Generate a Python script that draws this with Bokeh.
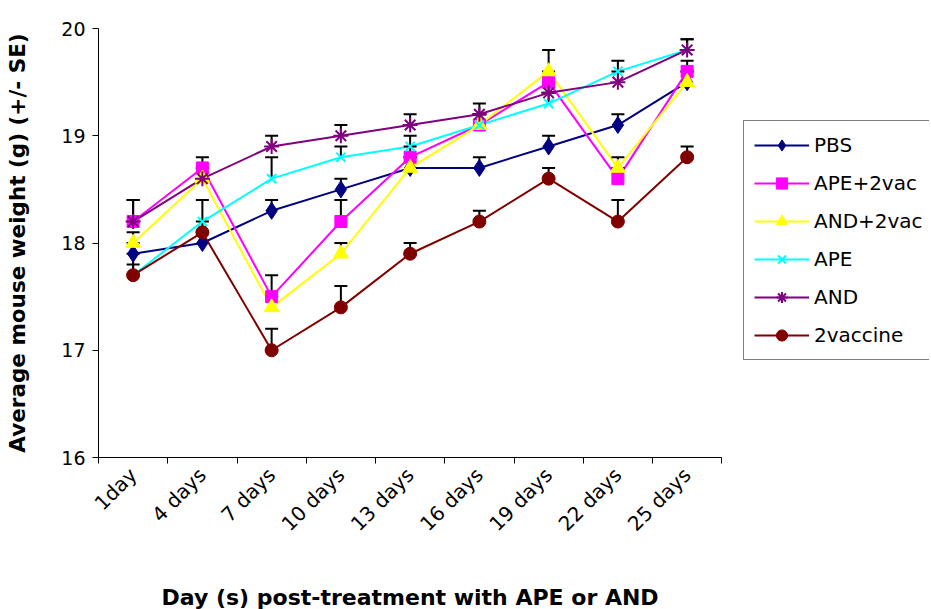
import math
from bokeh.plotting import figure
from bokeh.models import Range1d, FixedTicker, LinearAxis, Legend, LegendItem, Title
from bokeh.embed import file_html
from bokeh.resources import INLINE

# ---------------- data ----------------
days = ["1day", "4 days", "7 days", "10 days", "13 days", "16 days", "19 days", "22 days", "25 days"]

pbs      = [17.9, 18.0, 18.3, 18.5, 18.7, 18.7, 18.9, 19.1, 19.5]
ape_2vac = [18.2, 18.7, 17.5, 18.2, 18.8, 19.1, 19.5, 18.6, 19.6]
and_2vac = [18.0, 18.6, 17.4, 17.9, 18.7, 19.1, 19.6, 18.7, 19.5]
ape      = [17.7, 18.2, 18.6, 18.8, 18.9, 19.1, 19.3, 19.6, 19.8]
and_     = [18.2, 18.6, 18.9, 19.0, 19.1, 19.2, 19.4, 19.5, 19.8]
vac2     = [17.7, 18.1, 17.0, 17.4, 17.9, 18.2, 18.6, 18.2, 18.8]

pbs_se      = [0.1, 0.1, 0.1, 0.1, 0.1, 0.1, 0.1, 0.1, 0.1]
ape_2vac_se = [0.2, 0.1, 0.2, 0.2, 0.1, 0.1, 0.1, 0.1, 0.1]
and_2vac_se = [0.1, 0.1, 0.1, 0.1, 0.1, 0.1, 0.2, 0.1, 0.1]
ape_se      = [0.1, 0.2, 0.2, 0.1, 0.1, 0.1, 0.1, 0.1, 0.1]
and_se      = [0.2, 0.1, 0.1, 0.1, 0.1, 0.1, 0.1, 0.1, 0.1]
vac2_se     = [0.2, 0.1, 0.2, 0.2, 0.1, 0.1, 0.1, 0.2, 0.1]

y_ticks = [16, 17, 18, 19, 20]

series = [
    ("PBS",      pbs,      pbs_se,      "#000080", "diamond",  17),
    ("APE+2vac", ape_2vac, ape_2vac_se, "#FF00FF", "square",   12),
    ("AND+2vac", and_2vac, and_2vac_se, "#FFFF00", "triangle", 15),
    ("APE",      ape,      ape_se,      "#00FFFF", "x",        13),
    ("AND",      and_,     and_se,      "#800080", "asterisk", 15),
    ("2vaccine", vac2,     vac2_se,     "#800000", "circle",   13),
]

FONT = "DejaVu Sans"
n = len(days)

# frame spans to the right edge; the axes are bounded to the category span
p = figure(width=931, height=609, output_backend="svg", toolbar_location=None,
           x_range=Range1d(0, 12), y_range=Range1d(16, 20),
           min_border_left=98, min_border_right=2, min_border_top=28, min_border_bottom=151,
           x_axis_location=None, y_axis_location="left")
p.outline_line_color = None
p.xgrid.visible = False
p.ygrid.visible = False
p.background_fill_color = "white"
p.border_fill_color = "white"

xs = [i + 0.5 for i in range(n)]

# y axis
ya = p.yaxis[0]
ya.ticker = FixedTicker(ticks=y_ticks)
ya.minor_tick_line_color = None
ya.major_tick_in = 0
ya.major_tick_out = 6
ya.axis_line_color = "black"
ya.major_tick_line_color = "black"
ya.major_label_text_font = FONT
ya.major_label_text_font_size = "19px"
ya.major_label_text_color = "black"
ya.major_label_standoff = 7
ya.axis_label = "Average mouse weight (g) (+/- SE)"
ya.axis_label_text_font = FONT
ya.axis_label_text_font_size = "21.5px"
ya.axis_label_text_font_style = "bold"
ya.axis_label_text_color = "black"
ya.axis_label_standoff = 28

# x axis: boundary ticks only
tick_axis = LinearAxis(ticker=FixedTicker(ticks=list(range(n + 1))), bounds=(0, n),
                       major_label_overrides={i: "" for i in range(n + 1)},
                       major_label_text_font_size="1px", major_label_standoff=0,
                       major_tick_in=0, major_tick_out=6,
                       minor_tick_line_color=None, axis_line_color="black",
                       major_tick_line_color="black")
p.add_layout(tick_axis, "below")

# x axis: category labels at centers
label_axis = LinearAxis(ticker=FixedTicker(ticks=xs), bounds=(0, n),
                        major_label_overrides={x: d for x, d in zip(xs, days)},
                        major_tick_in=0, major_tick_out=0, minor_tick_line_color=None,
                        axis_line_color=None, major_tick_line_color=None,
                        major_label_orientation=math.pi / 4,
                        major_label_standoff=8,
                        major_label_text_font=FONT, major_label_text_font_size="20px",
                        major_label_text_color="black")
p.add_layout(label_axis, "below")

# empty spacer between the tick labels and the axis title
spacer = Title(text=" ", text_font_size="1px", standoff=32)
p.add_layout(spacer, "below")

# x axis title, centred under the category span
x_title = Title(text="Day (s) post-treatment with APE or AND", align="left", offset=63,
                vertical_align="bottom",
                text_font=FONT, text_font_size="22px", text_font_style="bold",
                text_color="black", standoff=0)
p.add_layout(x_title, "below")

line_renderers = []
for name, vals, se, col, mk, sz in series:
    r = p.line(xs, vals, line_color=col, line_width=2)
    line_renderers.append(r)

# error bars (upper only)
for name, vals, se, col, mk, sz in series:
    tops = [v + s for v, s in zip(vals, se)]
    p.segment(x0=xs, y0=vals, x1=xs, y1=tops, line_color="black", line_width=2)
    p.scatter(xs, tops, marker="dash", size=13, line_color="black", line_width=2)

items = []
for (name, vals, se, col, mk, sz), lr in zip(series, line_renderers):
    if mk in ("x", "asterisk"):
        m = p.scatter(xs, vals, marker=mk, size=sz, line_color=col, line_width=2)
    else:
        m = p.scatter(xs, vals, marker=mk, size=sz, fill_color=col, line_color=col, line_width=1)
    items.append(LegendItem(label=name, renderers=[lr, m]))

legend = Legend(items=items, location=(645, 97), orientation="vertical",
                glyph_width=55, glyph_height=28, label_height=28, label_width=105,
                spacing=10, padding=10, margin=0, label_standoff=5,
                border_line_color="black", border_line_width=1,
                background_fill_color="white", background_fill_alpha=1.0,
                label_text_font=FONT, label_text_font_size="20px", label_text_color="black")
p.add_layout(legend)

open("out.html", "w").write(file_html(p, INLINE))
